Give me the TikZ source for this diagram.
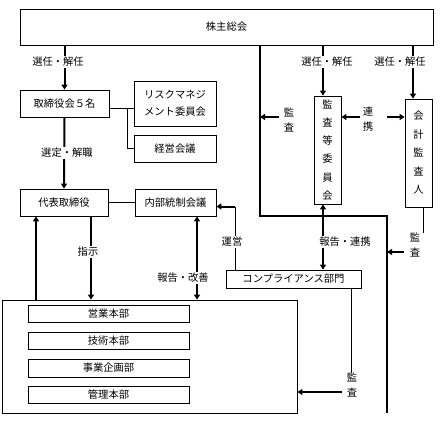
\documentclass[tikz,border=0pt]{standalone}
\usepackage{fontspec}
\setmainfont{Noto Sans CJK JP}
\usetikzlibrary{arrows.meta}
\begin{document}
\begin{tikzpicture}[x=1pt,y=-1pt,
  box/.style={draw,line width=0.8pt,inner sep=0pt,align=center},
  thk/.style={line width=2pt},
  thn/.style={line width=0.8pt},
  arr/.style={thk,-{Triangle[length=5pt,width=6pt]}},
  darr/.style={thk,{Triangle[length=5pt,width=6pt]}-{Triangle[length=5pt,width=6pt]}},
  lbl/.style={fill=white,inner sep=1pt},
  vlbl/.style={inner sep=1pt,align=center,font=\fontsize{10.3}{15}\selectfont},
  font=\fontsize{10.3}{12}\selectfont]
\useasboundingbox (0,0) rectangle (442,440);
% boxes
\node[box,minimum width=413pt,minimum height=36pt] (kabu) at (226.5,27) {株主総会};
\node[box,minimum width=89pt,minimum height=27pt] (tori) at (64.5,103.5) {取締役会５名};
\node[box,minimum width=82pt,minimum height=45pt,font=\fontsize{10.3}{17}\selectfont] (risk) at (175,103.5) {リスクマネジ\\メント委員会};
\node[box,minimum width=82pt,minimum height=27pt] (keiei) at (175,148.5) {経営会議};
\node[box,minimum width=88pt,minimum height=27pt] (daihyo) at (64,202.5) {代表取締役};
\node[box,minimum width=81pt,minimum height=27pt] (naibu) at (175.5,202.5) {内部統制会議};
\node[box,minimum width=295pt,minimum height=113pt] (big) at (149.5,356.5) {};
\node[box,minimum width=161pt,minimum height=17pt] (eigyo) at (108.5,313.5) {営業本部};
\node[box,minimum width=161pt,minimum height=17pt] (gijutsu) at (108.5,340.5) {技術本部};
\node[box,minimum width=161pt,minimum height=18pt] (jigyo) at (108.5,368) {事業企画部};
\node[box,minimum width=161pt,minimum height=17pt] (kanri) at (108.5,394.5) {管理本部};
\node[box,minimum width=135pt,minimum height=18pt] (comp) at (293.5,279) {コンプライアンス部門};
\node[box,minimum width=27pt,minimum height=108pt,font=\fontsize{10.3}{18.2}\selectfont] (kansatou) at (327.5,150) {監\\査\\等\\委\\員\\会};
\node[box,minimum width=27pt,minimum height=108pt,font=\fontsize{10.3}{18.5}\selectfont] (kaikei) at (418.5,153) {会\\計\\監\\査\\人};
% coordinates
\coordinate (cx1) at (36,0);
\coordinate (cx2) at (91,0);
\coordinate (cx3) at (197,0);
\coordinate (cx4) at (235,0);
\coordinate (cx5) at (323,0);
\coordinate (cx6) at (413,0);
\coordinate (f1) at (260,216);
\coordinate (f2) at (387,216);
\coordinate (f3) at (387,413);
\coordinate (tj) at (127,108);
\coordinate (rk1) at (360,117);
\coordinate (rk2) at (387,117);
\coordinate (lk) at (279,117);
\coordinate (fk) at (260,117);
\coordinate (ka1) at (423,233);
\coordinate (ka2) at (404,252);
\coordinate (fa) at (387,252);
\coordinate (co1) at (351,373);
\coordinate (co2) at (342,392);
% thick frame
\draw[thk] (kabu.south -| f1) -- (f1) -- (f2) -- (f3);
% tree lines
\draw[thn] (tori.east |- tj) -- (risk.west |- tj);
\draw[thn] (tj) |- (keiei.west);
\draw[thn] (daihyo.east) -- (naibu.west);
% arrows left column
\draw[arr] (kabu.south -| tori.north) -- (tori.north);
\node[lbl] (l1) at (58,62) {選任・解任};
\draw[arr] (tori.south) -- (daihyo.north);
\node[lbl] (l2) at (67,153) {選定・解職};
\draw[arr] (big.north -| cx1) -- (daihyo.south -| cx1);
\draw[arr] (daihyo.south -| cx2) -- (big.north -| cx2);
\node[lbl] (l3) at (88,252) {指示};
\draw[darr] (naibu.south -| cx3) -- (big.north -| cx3);
\node[lbl] (l4) at (183,278) {報告・改善};
\draw[thn] (comp.north -| cx4) -- ([yshift=-4pt]naibu.east -| cx4);
\draw[arr] ([yshift=-4pt]naibu.east -| cx4) -- ([yshift=-4pt]naibu.east);
\node[lbl] (l5) at (232,242) {運営};
% right
\draw[arr] (kabu.south -| cx5) -- (kansatou.north -| cx5);
\node[lbl] (l6) at (327,62) {選任・解任};
\draw[arr] (kabu.south -| cx6) -- (kaikei.north -| cx6);
\node[lbl] (l7) at (400,62) {選任・解任};
\node[vlbl] (l8) at (368,119) {連\\携};
\draw[arr] (rk1) -- (kansatou.east |- rk1);
\draw[arr] (rk2) -- (kaikei.west |- rk2);
\node[vlbl] (l9) at (289,120) {監\\査};
\draw[arr] (lk) -- (fk);
\draw[darr] (kansatou.south -| cx5) -- (comp.north -| cx5);
\node[lbl] (l10) at (345,242) {報告・連携};
\draw[thn] (kaikei.south -| ka1) -- (ka1);
\node[vlbl] (l11) at (415,245) {監\\査};
\draw[arr] (ka2) -- (fa);
\draw[thn] (comp.south -| co1) -- (co1);
\node[vlbl] (l12) at (352,385) {監\\査};
\draw[arr] (co2) -- (big.east |- co2);
\end{tikzpicture}
\end{document}
